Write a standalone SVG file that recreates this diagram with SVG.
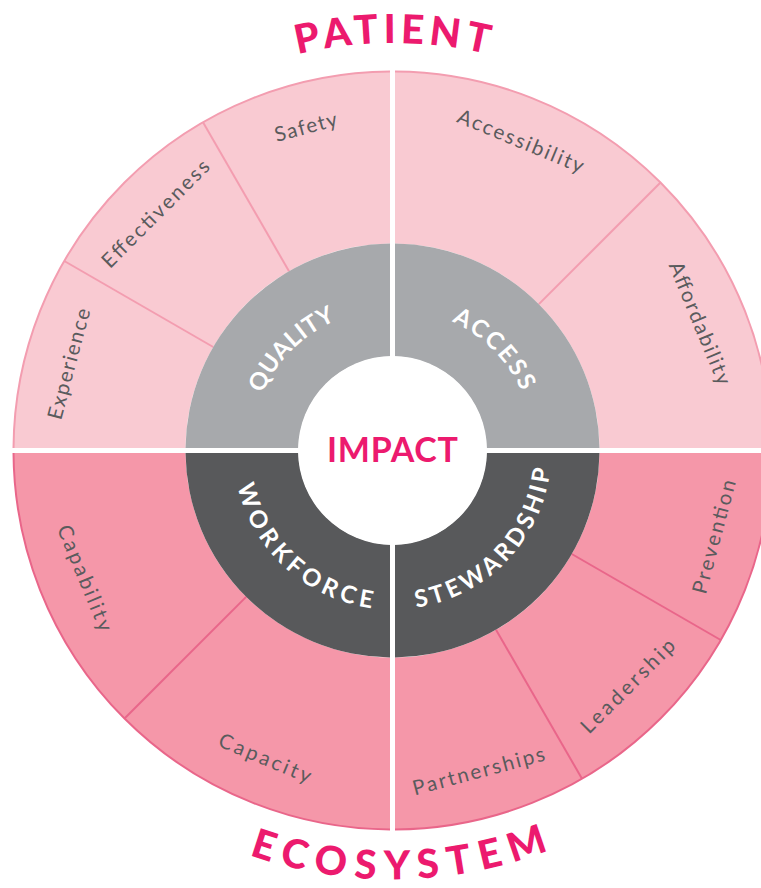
<svg xmlns="http://www.w3.org/2000/svg" width="761" height="888" viewBox="0 0 761 888">
<defs>
<style>
.sliceTop{fill:#f9cad2;}
.sliceBot{fill:#f597a9;}
.ringLight{fill:#a7a9ac;}
.ringDark{fill:#58595b;}
.rimTop{fill:none;stroke:#f39db0;stroke-width:2;}
.rimBot{fill:none;stroke:#e9668a;stroke-width:2;}
.divTop{stroke:#f39db0;stroke-width:2;}
.divBot{stroke:#e9668a;stroke-width:2;}
.lbl{font-family:Lato,"Open Sans",sans-serif;font-size:20.5px;fill:#5a5b5d;text-anchor:middle;}
.ring{font-family:Lato,"Open Sans",sans-serif;font-size:24px;font-weight:700;fill:#ffffff;text-anchor:middle;}
.title{font-family:Lato,"Open Sans",sans-serif;font-size:40px;font-weight:900;fill:#ec1a6e;text-anchor:middle;}
</style>
<clipPath id="qTL"><rect x="0" y="0" width="390" height="448"/></clipPath>
<clipPath id="qTR"><rect x="395" y="0" width="400" height="448"/></clipPath>
<clipPath id="qBL"><rect x="0" y="453" width="390" height="440"/></clipPath>
<clipPath id="qBR"><rect x="395" y="453" width="400" height="440"/></clipPath>
<path id="arcQuality" d="M 250.5,450.5 A 142 142 0 0 1 392.5,308.5"/>
<path id="arcAccess" d="M 392.5,308.5 A 142 142 0 0 1 534.5,450.5"/>
<path id="arcWorkforce" d="M 233.5,450.5 A 159 159 0 0 0 392.5,609.5"/>
<path id="arcStewardship" d="M 392.5,609.5 A 159 159 0 0 0 551.5,450.5"/>
<path id="arcPatient" d="M -15,450.5 A 407.5 407.5 0 0 1 800,450.5"/>
<path id="arcEco" d="M -36.5,450.5 A 429 429 0 0 0 821.5,450.5"/>
</defs>

<g id="safety" clip-path="url(#qTL)">
<path class="sliceTop" d="M 392.5,71.5 A 379 379 0 0 0 203,122.28 L 289,271.23 A 207 207 0 0 1 392.5,243.5 Z"/>
<text class="lbl" transform="translate(306.05,127.88) rotate(-15)" dy="6" textLength="64" lengthAdjust="spacing">Safety</text>
</g>
<g id="effectiveness" clip-path="url(#qTL)">
<path class="sliceTop" d="M 203,122.28 A 379 379 0 0 0 64.28,261 L 213.23,347 A 207 207 0 0 1 289,271.23 Z"/>
<text class="lbl" transform="translate(156.33,214.33) rotate(-45)" dy="6" textLength="143" lengthAdjust="spacing">Effectiveness</text>
</g>
<g id="experience" clip-path="url(#qTL)">
<path class="sliceTop" d="M 64.28,261 A 379 379 0 0 0 13.5,450.5 L 185.5,450.5 A 207 207 0 0 1 213.23,347 Z"/>
<text class="lbl" transform="translate(69.88,364.05) rotate(-75)" dy="6" textLength="114" lengthAdjust="spacing">Experience</text>
</g>
<g id="accessibility" clip-path="url(#qTR)">
<path class="sliceTop" d="M 660.5,182.5 A 379 379 0 0 0 392.5,71.5 L 392.5,243.5 A 207 207 0 0 1 538.87,304.13 Z"/>
<text class="lbl" transform="translate(520.32,141.92) rotate(22.5)" dy="6" textLength="135" lengthAdjust="spacing">Accessibility</text>
</g>
<g id="affordability" clip-path="url(#qTR)">
<path class="sliceTop" d="M 771.5,450.5 A 379 379 0 0 0 660.5,182.5 L 538.87,304.13 A 207 207 0 0 1 599.5,450.5 Z"/>
<text class="lbl" transform="translate(699,323.5) rotate(67.5)" dy="6" textLength="131" lengthAdjust="spacing">Affordability</text>
</g>
<g id="capability" clip-path="url(#qBL)">
<path class="sliceBot" d="M 13.5,450.5 A 379 379 0 0 0 124.5,718.5 L 246.13,596.87 A 207 207 0 0 1 185.5,450.5 Z"/>
<text class="lbl" transform="translate(83.92,578.32) rotate(67.5)" dy="6" textLength="113" lengthAdjust="spacing">Capability</text>
</g>
<g id="capacity" clip-path="url(#qBL)">
<path class="sliceBot" d="M 124.5,718.5 A 379 379 0 0 0 392.5,829.5 L 392.5,657.5 A 207 207 0 0 1 246.13,596.87 Z"/>
<text class="lbl" transform="translate(264.68,759.08) rotate(22.5)" dy="6" textLength="98" lengthAdjust="spacing">Capacity</text>
</g>
<g id="partnerships" clip-path="url(#qBR)">
<path class="sliceBot" d="M 392.5,829.5 A 379 379 0 0 0 582,778.72 L 496,629.77 A 207 207 0 0 1 392.5,657.5 Z"/>
<text class="lbl" transform="translate(478.95,772) rotate(-15)" dy="6" textLength="136" lengthAdjust="spacing">Partnerships</text>
</g>
<g id="leadership" clip-path="url(#qBR)">
<path class="sliceBot" d="M 582,778.72 A 379 379 0 0 0 720.72,640 L 571.77,554 A 207 207 0 0 1 496,629.77 Z"/>
<text class="lbl" transform="translate(628.67,686.67) rotate(-45)" dy="6" textLength="124" lengthAdjust="spacing">Leadership</text>
</g>
<g id="prevention" clip-path="url(#qBR)">
<path class="sliceBot" d="M 720.72,640 A 379 379 0 0 0 771.5,450.5 L 599.5,450.5 A 207 207 0 0 1 571.77,554 Z"/>
<text class="lbl" transform="translate(715.12,536.95) rotate(-75)" dy="6" textLength="117" lengthAdjust="spacing">Prevention</text>
</g>

<g id="dividers">
<line class="divTop" x1="289" y1="271.23" x2="203" y2="122.28"/>
<line class="divTop" x1="213.23" y1="347" x2="64.28" y2="261"/>
<line class="divTop" x1="538.87" y1="304.13" x2="660.5" y2="182.5"/>
<line class="divBot" x1="246.13" y1="596.87" x2="124.5" y2="718.5"/>
<line class="divBot" x1="496" y1="629.77" x2="582" y2="778.72"/>
<line class="divBot" x1="571.77" y1="554" x2="720.72" y2="640"/>
<path class="rimTop" clip-path="url(#qTL)" d="M 13.5,450.5 A 379 379 0 0 1 392.5,71.5"/>
<path class="rimTop" clip-path="url(#qTR)" d="M 392.5,71.5 A 379 379 0 0 1 771.5,450.5"/>
<path class="rimBot" clip-path="url(#qBL)" d="M 13.5,450.5 A 379 379 0 0 0 392.5,829.5"/>
<path class="rimBot" clip-path="url(#qBR)" d="M 392.5,829.5 A 379 379 0 0 0 771.5,450.5"/>
</g>

<g id="quality" clip-path="url(#qTL)">
<path class="ringLight" d="M 392.5,243.5 A 207 207 0 0 0 185.5,450.5 L 298.5,450.5 A 94 94 0 0 1 392.5,356.5 Z"/>
<text class="ring"><textPath href="#arcQuality" startOffset="50%" textLength="106" lengthAdjust="spacing">QUALITY</textPath></text>
</g>
<g id="access" clip-path="url(#qTR)">
<path class="ringLight" d="M 599.5,450.5 A 207 207 0 0 0 392.5,243.5 L 392.5,356.5 A 94 94 0 0 1 486.5,450.5 Z"/>
<text class="ring"><textPath href="#arcAccess" startOffset="50%" textLength="101" lengthAdjust="spacing">ACCESS</textPath></text>
</g>
<g id="workforce" clip-path="url(#qBL)">
<path class="ringDark" d="M 185.5,450.5 A 207 207 0 0 0 392.5,657.5 L 392.5,544.5 A 94 94 0 0 1 298.5,450.5 Z"/>
<text class="ring"><textPath href="#arcWorkforce" startOffset="53%" textLength="193" lengthAdjust="spacing">WORKFORCE</textPath></text>
</g>
<g id="stewardship" clip-path="url(#qBR)">
<path class="ringDark" d="M 392.5,657.5 A 207 207 0 0 0 599.5,450.5 L 486.5,450.5 A 94 94 0 0 1 392.5,544.5 Z"/>
<text class="ring"><textPath href="#arcStewardship" startOffset="51%" textLength="207" lengthAdjust="spacing">STEWARDSHIP</textPath></text>
</g>

<g id="impact">
<circle cx="392.5" cy="450.5" r="94.5" fill="#ffffff"/>
<text x="392.5" y="461.7" font-family="Lato,'Open Sans',sans-serif" font-size="34" font-weight="700" fill="#ec1a6e" text-anchor="middle" textLength="131" lengthAdjust="spacing">IMPACT</text>
</g>

<g id="patient">
<text class="title"><textPath href="#arcPatient" startOffset="50%" textLength="192" lengthAdjust="spacing">PATIENT</textPath></text>
</g>
<g id="ecosystem">
<text class="title"><textPath href="#arcEco" startOffset="50.5%" textLength="306" lengthAdjust="spacing">ECOSYSTEM</textPath></text>
</g>
</svg>
